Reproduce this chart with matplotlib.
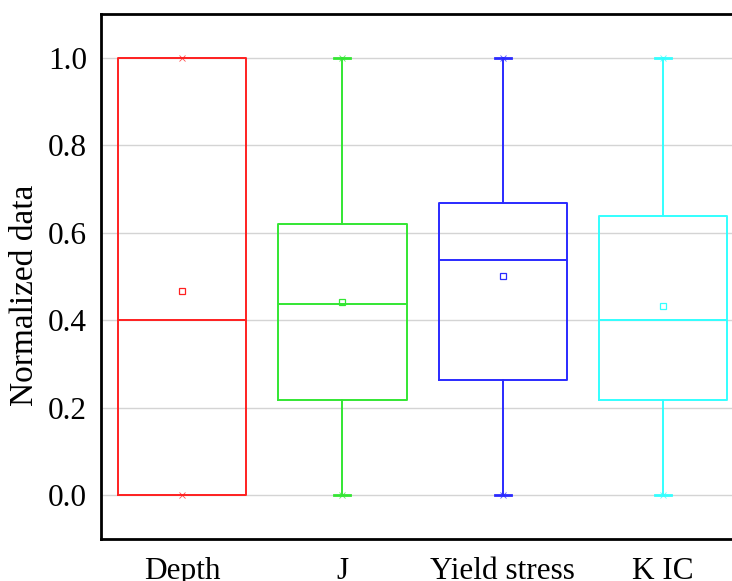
import matplotlib
matplotlib.use("Agg")
import matplotlib.pyplot as plt

# data (normalized)
labels = ["Depth", "J", "Yield stress", "K IC"]
q1 = [0.0, 0.217, 0.263, 0.217]
medians = [0.40, 0.437, 0.538, 0.40]
q3 = [1.0, 0.620, 0.668, 0.638]
means = [0.467, 0.442, 0.501, 0.432]
mins = [0.0, 0.0, 0.0, 0.0]
maxs = [1.0, 1.0, 1.0, 1.0]
colors = ["#ff2020", "#33e633", "#2a2aff", "#33ffff"]

plt.rcParams["font.family"] = ["Liberation Serif", "DejaVu Serif"]

fig = plt.figure(figsize=(7.32, 5.81), dpi=100)
ax = fig.add_axes([0.138, 0.072, 0.862, 0.904])

pos = list(range(1, len(labels) + 1))
for i, p in enumerate(pos):
    c = colors[i]
    stats = [dict(med=medians[i], q1=q1[i], q3=q3[i], whislo=mins[i],
                  whishi=maxs[i], mean=means[i], label=labels[i])]
    has_whisk = mins[i] < q1[i] or maxs[i] > q3[i]
    ax.bxp(stats, positions=[p], widths=0.8, showmeans=True,
           showcaps=has_whisk, showfliers=False,
           boxprops=dict(color=c, linewidth=1.4),
           whiskerprops=dict(color=c, linewidth=1.4),
           capprops=dict(color=c, linewidth=2),
           medianprops=dict(color=c, linewidth=1.4),
           meanprops=dict(marker="s", markersize=4, markerfacecolor="none",
                          markeredgecolor=c, markeredgewidth=0.9),
           capwidths=0.1 if has_whisk else None)
    ax.plot([p, p], [mins[i], maxs[i]], linestyle="none", marker="x",
            markersize=5, color=c, markeredgewidth=0.6, alpha=0.8, zorder=4)

ax.set_xlim(0.494, 4.43)
ax.set_ylim(-0.1, 1.1)
ax.set_yticks([0.0, 0.2, 0.4, 0.6, 0.8, 1.0])
ax.set_yticklabels([f"{v:.1f}" for v in [0.0, 0.2, 0.4, 0.6, 0.8, 1.0]])
ax.set_xticks(pos)
ax.set_xticklabels(labels)
ax.tick_params(length=0, labelsize=22.5)
ax.tick_params(axis="y", pad=10)
ax.tick_params(axis="x", pad=13)
ax.grid(axis="y", color="#d4d4d4", linewidth=1)
ax.set_axisbelow(True)
ax.set_ylabel("Normalized data", fontsize=24)
ax.yaxis.set_label_coords(-0.096, 0.465)
for s in ("left", "top", "bottom"):
    ax.spines[s].set_linewidth(2)
ax.spines["right"].set_visible(False)

fig.savefig("out.png", dpi=100, facecolor="white")
